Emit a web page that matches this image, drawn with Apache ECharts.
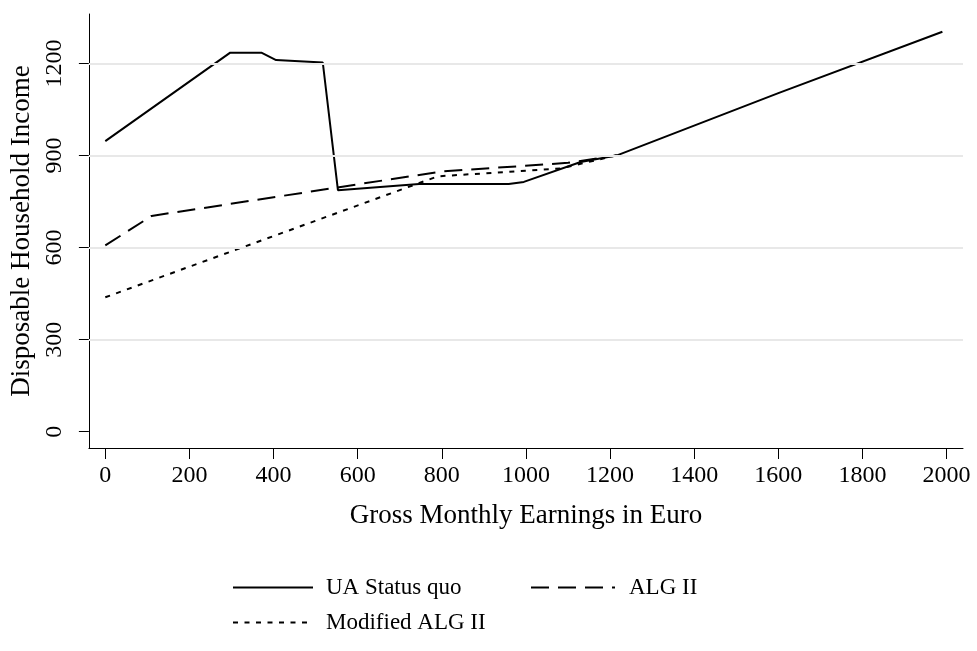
<!DOCTYPE html>
<html>
<head>
<meta charset="utf-8">
<script src="https://cdn.jsdelivr.net/npm/echarts@6/dist/echarts.min.js"></script>
<style>html,body{margin:0;padding:0;background:#fff}#c{width:977px;height:651px}</style>
</head>
<body>
<div id="c"></div>
<script>
// ---- data ----
const uaX = [0, 297, 371, 406, 517, 553, 746, 959, 995, 1130, 1218, 1600, 1990];
const uaY = [947, 1235, 1235, 1211, 1203, 787, 807, 807, 814, 879, 901, 1103, 1303];
const algX = [0, 110, 800, 1100, 1218];
const algY = [607, 703, 848, 876, 901];
const modX = [0, 790, 1083, 1218];
const modY = [438, 832, 858, 901];
const xTicks = [0, 200, 400, 600, 800, 1000, 1200, 1400, 1600, 1800, 2000];
const yTicks = [0, 300, 600, 900, 1200];
const gridValues = [300, 600, 900, 1200];
const seriesNames = ['UA Status quo', 'ALG II', 'Modified ALG II'];

const zip = (xs, ys) => xs.map((x, i) => [x, ys[i]]);
const FONT = 'Liberation Serif';
const legendText = (pad) => ({fontFamily: FONT, fontSize: 23, color: '#000', padding: [0, 0, 0, pad]});

const chart = echarts.init(document.getElementById('c'), null, {renderer: 'canvas'});
chart.setOption({
  animation: false,
  backgroundColor: '#fff',
  grid: {left: 87, right: 14, top: 14, bottom: 203, containLabel: false},
  xAxis: {
    type: 'value', min: -39, max: 2039,
    name: 'Gross Monthly Earnings in Euro', nameLocation: 'middle', nameGap: 54,
    nameTextStyle: {fontFamily: FONT, fontSize: 27, color: '#000'},
    axisLine: {onZero: false, lineStyle: {color: '#000', width: 1}},
    axisTick: {show: true, length: 11, customValues: xTicks, lineStyle: {color: '#000', width: 1}},
    axisLabel: {customValues: xTicks, formatter: v => String(v), fontFamily: FONT, fontSize: 24, color: '#000', margin: 16},
    splitLine: {show: false}
  },
  yAxis: {
    type: 'value', min: -53, max: 1361,
    name: 'Disposable Household Income', nameLocation: 'middle', nameGap: 53,
    nameTextStyle: {fontFamily: FONT, fontSize: 27, color: '#000'},
    axisLine: {onZero: false, lineStyle: {color: '#000', width: 1}},
    axisTick: {show: true, length: 10, customValues: yTicks, lineStyle: {color: '#000', width: 1}},
    axisLabel: {customValues: yTicks, formatter: v => String(v), fontFamily: FONT, fontSize: 24, color: '#000', margin: 22, rotate: 90},
    splitLine: {show: false}
  },
  legend: [
    {
      data: [seriesNames[0]], left: 232, top: 576, padding: 0,
      itemWidth: 80, itemHeight: 14, itemStyle: {opacity: 0},
      textStyle: legendText(8)
    },
    {
      data: [seriesNames[1]], left: 530, top: 576, padding: 0,
      itemWidth: 84, itemHeight: 14, itemStyle: {opacity: 0},
      textStyle: legendText(9)
    },
    {
      data: [seriesNames[2]], left: 232, top: 611, padding: 0,
      itemWidth: 80, itemHeight: 14, itemStyle: {opacity: 0},
      textStyle: legendText(8)
    }
  ],
  series: [
    {
      type: 'line', name: '_grid', data: [], z: 0, silent: true,
      markLine: {
        silent: true, symbol: 'none', label: {show: false},
        lineStyle: {color: '#e8e8e8', width: 2, type: 'solid'},
        data: gridValues.map(v => ({yAxis: v}))
      }
    },
    {
      type: 'line', name: seriesNames[0], data: zip(uaX, uaY), z: 3,
      symbol: 'none', showSymbol: false,
      lineStyle: {color: '#000', width: 2, type: 'solid'}, itemStyle: {color: '#000'}
    },
    {
      type: 'line', name: seriesNames[1], data: zip(algX, algY), z: 3,
      symbol: 'none', showSymbol: false,
      lineStyle: {color: '#000', width: 2, type: [18, 9]}, itemStyle: {color: '#000'}
    },
    {
      type: 'line', name: seriesNames[2], data: zip(modX, modY), z: 3,
      symbol: 'none', showSymbol: false,
      lineStyle: {color: '#000', width: 2, type: [5, 6.5]}, itemStyle: {color: '#000'}
    }
  ]
});
</script>
</body>
</html>
